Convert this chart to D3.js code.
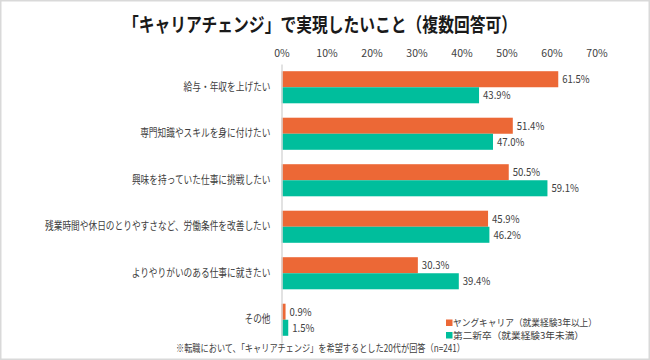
<!DOCTYPE html>
<html><head><meta charset="utf-8">
<script src="https://cdn.jsdelivr.net/npm/d3@7"></script>
<style>
html,body{margin:0;padding:0;background:#fff;}
svg{display:block;font-family:"Noto Sans CJK JP","Noto Sans",sans-serif;}
</style></head>
<body><svg id="c" width="650" height="360"></svg>
<script>
const categories = ["給与・年収を上げたい","専門知識やスキルを身に付けたい","興味を持っていた仕事に挑戦したい","残業時間や休日のとりやすさなど、労働条件を改善したい","よりやりがいのある仕事に就きたい","その他"];
const seriesNames = ["ヤングキャリア（就業経験3年以上）","第二新卒（就業経験3年未満）"];
const youngCareer = [61.5,51.4,50.5,45.9,30.3,0.9];
const secondNew = [43.9,47.0,59.1,46.2,39.4,1.5];
const tickValues = [0,10,20,30,40,50,60,70];
const colors = ["#EC6836","#00BE9C"];

function squeeze(sel, f){
  sel.each(function(){
    const w = this.getComputedTextLength();
    d3.select(this).attr("textLength", w*f).attr("lengthAdjust","spacingAndGlyphs");
  });
}

const svg = d3.select("#c");
svg.append("rect").attr("x",0.75).attr("y",0.75).attr("width",648.5).attr("height",358.5)
  .attr("fill","#fff").attr("stroke","#d9d9d9").attr("stroke-width",1.5);

svg.append("text").attr("x",320).attr("y",32).attr("text-anchor","middle")
  .attr("font-size",19.5).attr("font-weight",700).attr("fill","#1a1a1a")
  .attr("textLength",394).attr("lengthAdjust","spacingAndGlyphs")
  .text("「キャリアチェンジ」で実現したいこと（複数回答可）");

const x = d3.scaleLinear().domain([0,70]).range([281.5,596.5]);
const y = d3.scaleBand().domain(categories).range([64,343]).paddingInner(0.31).paddingOuter(0.155);
const ySub = d3.scaleBand().domain([0,1]).range([0,y.bandwidth()]);

const xAxis = svg.append("g").attr("transform","translate(0,53)")
  .call(d3.axisTop(x).tickValues(tickValues).tickFormat(d=>d+"%").tickSize(0).tickPadding(0));
xAxis.select(".domain").remove();
xAxis.selectAll("text").attr("dy","0.35em").attr("font-size",10.5).attr("fill","#404040").attr("font-family","'Noto Sans CJK JP',sans-serif");

const data = [youngCareer, secondNew];
data.forEach((vals,si)=>{
  const g = svg.append("g");
  g.selectAll("rect").data(vals).join("rect")
    .attr("x",x(0)).attr("y",(d,i)=>y(categories[i])+ySub(si))
    .attr("width",d=>x(d)-x(0)).attr("height",ySub.bandwidth())
    .attr("fill",colors[si]);
  const t = g.selectAll("text").data(vals).join("text")
    .attr("x",d=>x(d)+4).attr("y",(d,i)=>y(categories[i])+ySub(si)+ySub.bandwidth()/2)
    .attr("dy","0.35em").attr("font-size",11).attr("fill","#404040")
    .text(d=>d.toFixed(1)+"%");
  squeeze(t, 0.87);
});

const yAxis = svg.append("g").attr("transform","translate(281.5,0)")
  .call(d3.axisLeft(y).tickSize(0).tickPadding(11));
yAxis.select(".domain").attr("stroke","#d9d9d9").attr("stroke-width",1.5);
yAxis.selectAll("text").attr("font-size",11).attr("fill","#404040").attr("font-family","'Noto Sans CJK JP',sans-serif");
squeeze(yAxis.selectAll("text"), 0.79);

const legendWidths = [144,131];
const leg = svg.append("g");
seriesNames.forEach((n,i)=>{
  leg.append("rect").attr("x",446).attr("y",319.5+i*12.5).attr("width",6.5).attr("height",6.5).attr("fill",colors[i]);
  leg.append("text").attr("x",453).attr("y",323+i*12.5).attr("dy","0.35em").attr("font-size",9.5).attr("fill","#404040")
    .attr("textLength",legendWidths[i]).attr("lengthAdjust","spacingAndGlyphs").text(n);
});

svg.append("text").attr("x",320.5).attr("y",348.5).attr("dy","0.35em").attr("text-anchor","middle")
  .attr("font-size",10).attr("fill","#404040")
  .attr("textLength",289).attr("lengthAdjust","spacingAndGlyphs")
  .text("※転職において、「キャリアチェンジ」を希望するとした20代が回答（n=241）");
</script></body></html>
